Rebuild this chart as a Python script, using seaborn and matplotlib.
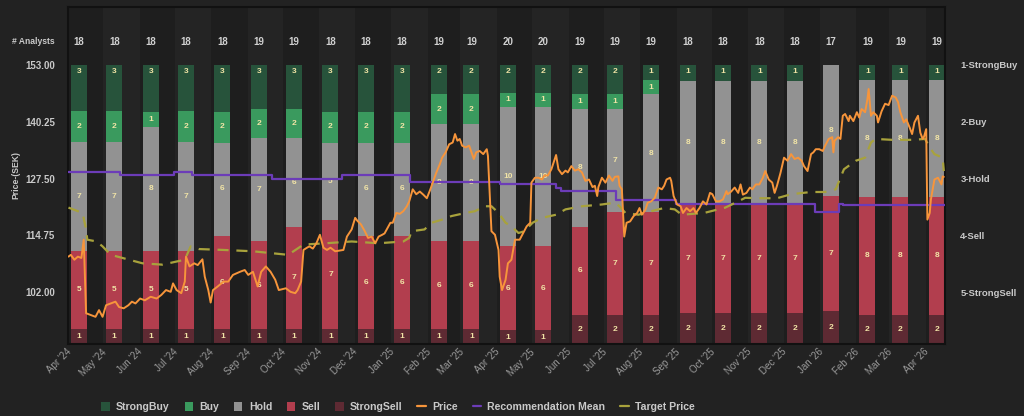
import numpy as np
import pandas as pd
import matplotlib
matplotlib.use("Agg")
import matplotlib.pyplot as plt
import matplotlib.dates as mdates
from matplotlib.patches import Patch
from matplotlib.lines import Line2D
from matplotlib.transforms import ScaledTranslation
import seaborn as sns

# ---------------- data ----------------
months = pd.date_range("2024-04-01", periods=25, freq="MS")
analysts    = [18, 18, 18, 18, 18, 19, 19, 18, 18, 18, 19, 19, 20, 20, 19, 19, 19, 18, 18, 18, 18, 17, 19, 19, 19]
strong_buy  = [3, 3, 3, 3, 3, 3, 3, 3, 3, 3, 2, 2, 2, 2, 2, 2, 1, 1, 1, 1, 1, 0, 1, 1, 1]
buy         = [2, 2, 1, 2, 2, 2, 2, 2, 2, 2, 2, 2, 1, 1, 1, 1, 1, 0, 0, 0, 0, 0, 0, 0, 0]
hold        = [7, 7, 8, 7, 6, 7, 6, 5, 6, 6, 8, 8, 10, 10, 8, 7, 8, 8, 8, 8, 8, 8, 8, 8, 8]
sell        = [5, 5, 5, 5, 6, 6, 7, 7, 6, 6, 6, 6, 6, 6, 6, 7, 7, 7, 7, 7, 7, 7, 8, 8, 8]
strong_sell = [1, 1, 1, 1, 1, 1, 1, 1, 1, 1, 1, 1, 1, 1, 2, 2, 2, 2, 2, 2, 2, 2, 2, 2, 2]

price_dates = [
    "2024-03-23", "2024-03-25", "2024-03-28", "2024-03-31",
    "2024-04-03", "2024-04-05", "2024-04-07", "2024-04-11", "2024-04-15", "2024-04-18", "2024-04-21", "2024-04-24", "2024-04-28",
    "2024-05-02", "2024-05-05", "2024-05-09", "2024-05-13", "2024-05-16", "2024-05-19", "2024-05-23", "2024-05-27",
    "2024-06-01", "2024-06-06", "2024-06-10", "2024-06-14", "2024-06-18", "2024-06-20", "2024-06-23", "2024-06-27", "2024-06-30",
    "2024-07-01", "2024-07-04", "2024-07-08", "2024-07-11", "2024-07-15", "2024-07-17", "2024-07-20", "2024-07-22", "2024-07-24", "2024-07-28",
    "2024-08-02", "2024-08-06", "2024-08-10", "2024-08-16", "2024-08-20", "2024-08-23", "2024-08-27", "2024-08-31",
    "2024-09-03", "2024-09-07", "2024-09-11", "2024-09-15", "2024-09-18", "2024-09-24", "2024-09-28",
    "2024-10-02", "2024-10-04", "2024-10-07", "2024-10-09", "2024-10-12", "2024-10-14", "2024-10-17", "2024-10-20", "2024-10-23", "2024-10-26", "2024-10-29",
    "2024-11-01", "2024-11-05", "2024-11-12", "2024-11-15", "2024-11-19", "2024-11-22", "2024-11-24", "2024-11-27", "2024-11-30",
    "2024-12-03", "2024-12-06", "2024-12-09", "2024-12-12", "2024-12-15", "2024-12-17", "2024-12-22", "2024-12-24", "2024-12-27", "2024-12-30",
    "2025-01-02", "2025-01-05", "2025-01-07", "2025-01-10", "2025-01-13", "2025-01-16", "2025-01-19", "2025-01-22", "2025-01-25", "2025-01-27", "2025-01-30",
    "2025-02-02", "2025-02-04", "2025-02-07", "2025-02-10", "2025-02-13", "2025-02-15", "2025-02-17", "2025-02-19", "2025-02-21", "2025-02-24", "2025-02-27",
    "2025-03-03", "2025-03-05", "2025-03-08", "2025-03-11", "2025-03-14", "2025-03-15", "2025-03-17", "2025-03-18", "2025-03-21", "2025-03-24", "2025-03-25", "2025-03-27", "2025-03-30",
    "2025-04-01", "2025-04-04", "2025-04-07", "2025-04-11", "2025-04-14", "2025-04-17", "2025-04-20", "2025-04-21", "2025-04-24", "2025-04-27", "2025-04-30",
    "2025-05-02", "2025-05-05", "2025-05-08", "2025-05-12", "2025-05-14", "2025-05-17", "2025-05-20", "2025-05-22", "2025-05-25", "2025-05-28", "2025-05-31",
    "2025-06-03", "2025-06-06", "2025-06-09", "2025-06-12", "2025-06-14", "2025-06-16", "2025-06-17", "2025-06-20", "2025-06-23", "2025-06-26", "2025-06-29",
    "2025-07-01", "2025-07-04", "2025-07-05", "2025-07-07", "2025-07-09", "2025-07-11", "2025-07-14", "2025-07-17", "2025-07-20", "2025-07-22", "2025-07-24", "2025-07-27", "2025-07-29",
    "2025-08-01", "2025-08-04", "2025-08-07", "2025-08-10", "2025-08-12", "2025-08-14", "2025-08-17", "2025-08-18", "2025-08-20", "2025-08-23", "2025-08-26", "2025-08-28", "2025-08-31",
    "2025-09-03", "2025-09-06", "2025-09-08", "2025-09-11", "2025-09-14", "2025-09-17", "2025-09-20", "2025-09-22", "2025-09-25", "2025-09-28",
    "2025-10-01", "2025-10-04", "2025-10-05", "2025-10-08", "2025-10-11", "2025-10-14", "2025-10-16", "2025-10-18", "2025-10-21", "2025-10-24", "2025-10-26", "2025-10-29",
    "2025-11-01", "2025-11-04", "2025-11-06", "2025-11-09", "2025-11-12", "2025-11-14", "2025-11-16", "2025-11-19", "2025-11-22", "2025-11-25", "2025-11-28",
    "2025-12-01", "2025-12-04", "2025-12-07", "2025-12-09", "2025-12-12", "2025-12-15", "2025-12-17", "2025-12-19", "2025-12-22", "2025-12-25", "2025-12-27", "2025-12-30",
    "2026-01-02", "2026-01-03", "2026-01-04", "2026-01-07", "2026-01-09", "2026-01-11", "2026-01-13", "2026-01-16", "2026-01-17", "2026-01-20", "2026-01-23", "2026-01-25", "2026-01-27", "2026-01-30",
    "2026-02-01", "2026-02-02", "2026-02-04", "2026-02-06", "2026-02-09", "2026-02-10", "2026-02-13", "2026-02-16", "2026-02-19", "2026-02-22", "2026-02-25", "2026-02-27",
    "2026-03-01", "2026-03-04", "2026-03-06", "2026-03-09", "2026-03-11", "2026-03-13", "2026-03-16", "2026-03-18", "2026-03-20", "2026-03-21", "2026-03-23", "2026-03-24", "2026-03-26", "2026-03-27", "2026-03-30",
    "2026-04-02", "2026-04-05", "2026-04-06", "2026-04-07",
]
price_values = [
    110.0, 110.4, 109.3, 110.0,
    109.7, 113.8, 97.3, 96.9, 96.5, 98.0, 96.5, 99.1, 99.5,
    99.9, 98.7, 98.4, 99.1, 99.9, 99.5, 100.6, 100.2,
    101.0, 100.6, 101.4, 102.5, 102.1, 104.0, 102.5, 101.8, 104.4,
    110.0, 107.8, 108.5, 108.1, 109.4, 105.5, 102.5, 99.7, 102.5, 103.3,
    104.4, 104.4, 105.9, 106.6, 107.0, 105.9, 106.6, 103.3,
    106.6, 107.8, 106.6, 104.8, 102.5, 102.9, 102.1,
    101.8, 102.5, 104.4, 111.5, 112.0, 112.3, 111.8, 113.0, 114.9, 112.0, 111.5,
    112.0, 111.2, 111.5, 114.5, 116.1, 118.7, 118.0, 117.2, 115.8,
    114.2, 114.5, 113.0, 114.5, 114.9, 115.2, 117.6, 117.6, 119.8, 119.6,
    120.2, 121.3, 122.4, 125.1, 124.0, 124.6, 123.9, 123.1, 125.1, 126.6, 128.8,
    130.7, 132.2, 133.4, 135.2, 135.6, 137.5, 136.0, 136.4, 134.9, 134.5, 134.9,
    131.9, 133.4, 133.7, 133.0, 134.1, 132.6, 121.3, 115.7, 114.9, 111.5, 105.5, 102.5, 104.8,
    108.5, 109.3, 113.8, 113.8, 115.3, 116.8, 117.6, 126.6, 127.7, 127.7, 127.3,
    128.2, 128.2, 129.6, 132.8, 129.6, 128.5, 129.3, 128.9, 130.3, 129.3, 129.6,
    128.9, 127.0, 127.3, 125.6, 125.9, 123.6, 125.6, 127.7, 126.6, 128.2, 127.0,
    127.9, 128.0, 125.9, 125.1, 114.5, 117.6, 117.9, 119.1, 119.8, 120.9, 119.4, 120.5, 122.1,
    122.4, 123.2, 125.5, 125.1, 125.9, 127.3, 127.7, 127.0, 123.6, 121.7, 121.3, 119.8, 120.9,
    120.2, 120.9, 119.8, 120.9, 122.4, 121.7, 124.3, 124.0, 122.4, 122.4,
    122.8, 124.7, 124.0, 124.6, 125.5, 124.3, 126.2, 123.9, 124.3, 125.5, 125.1, 126.2,
    126.2, 127.7, 129.2, 127.3, 126.6, 124.3, 125.9, 128.8, 132.2, 131.5, 133.0,
    131.9, 132.2, 131.5, 130.3, 129.2, 133.0, 133.4, 134.1, 134.1, 133.7, 134.9, 136.4,
    136.8, 133.4, 136.0, 136.8, 136.4, 141.6, 142.0, 140.4, 141.6, 140.4, 142.4, 141.2, 143.1, 142.4,
    145.4, 147.6, 141.6, 142.4, 141.6, 140.1, 142.6, 144.3, 144.0, 146.1, 145.7, 144.7,
    142.4, 140.1, 140.8, 138.9, 137.5, 140.1, 141.6, 137.8, 136.4, 136.8, 138.6, 118.3, 119.8, 122.8, 127.3,
    127.7, 126.2, 128.0, 127.9,
]

target_dates = [
    "2024-03-23", "2024-04-04", "2024-04-07", "2024-04-08", "2024-04-16", "2024-04-21", "2024-04-28",
    "2024-05-08", "2024-05-25", "2024-06-11", "2024-06-23", "2024-06-30", "2024-07-05", "2024-07-12",
    "2024-08-02", "2024-08-27", "2024-09-26", "2024-10-09", "2024-10-28", "2024-11-19", "2024-12-12",
    "2025-01-02", "2025-01-07", "2025-01-09", "2025-01-20", "2025-01-26", "2025-02-04", "2025-02-12",
    "2025-02-24", "2025-03-04", "2025-03-12", "2025-03-18", "2025-03-24", "2025-03-30", "2025-04-04",
    "2025-04-10", "2025-04-15", "2025-04-22", "2025-04-30", "2025-05-12", "2025-05-20", "2025-06-03",
    "2025-06-20", "2025-07-01", "2025-07-05", "2025-07-10", "2025-07-21", "2025-08-07", "2025-08-12",
    "2025-08-21", "2025-08-27", "2025-09-15", "2025-10-03", "2025-10-14", "2025-10-20", "2025-10-31",
    "2025-11-16", "2025-11-28", "2025-12-15", "2025-12-27", "2026-01-05", "2026-01-09", "2026-01-12",
    "2026-01-22", "2026-01-30", "2026-02-04", "2026-02-08", "2026-02-22", "2026-03-11", "2026-03-22",
    "2026-03-26", "2026-03-30", "2026-04-06", "2026-04-07",
]
target_values = [
    121.0, 119.8, 116.1, 113.8, 113.4, 112.3, 110.4,
    109.7, 108.5, 108.2, 108.9, 109.3, 112.3, 111.7,
    111.5, 111.2, 110.4, 112.7, 113.0, 113.4, 113.0,
    113.4, 114.2, 115.7, 116.1, 117.6, 118.3, 119.1,
    119.8, 120.2, 121.3, 121.3, 119.8, 117.6, 116.8,
    115.3, 115.7, 117.6, 118.7, 119.4, 120.6, 121.3,
    121.7, 122.1, 121.3, 119.8, 119.4, 120.6, 120.9,
    120.6, 119.4, 119.8, 121.0, 122.4, 123.2, 123.1,
    123.1, 124.0, 124.5, 124.5, 125.1, 127.7, 129.6,
    131.5, 132.2, 135.6, 136.4, 136.2, 136.2, 136.4,
    134.5, 133.0, 132.2, 129.2,
]

rec_dates = ["2024-03-22", "2024-05-06", "2024-06-21", "2024-07-06", "2024-09-12", "2024-11-11",
             "2025-01-08", "2025-03-25", "2025-05-12", "2025-05-16", "2025-07-02", "2025-08-22",
             "2025-12-18", "2026-01-08", "2026-01-11", "2026-04-08"]
rec_values = [2.89, 2.94, 2.89, 2.94, 3.00, 2.94, 3.06, 3.10, 3.16, 3.21, 3.37, 3.45, 3.59, 3.44, 3.47, 3.47]

price_ticks = [102.00, 114.75, 127.50, 140.25, 153.00]
rec_ticks = [1, 2, 3, 4, 5]
rec_tick_labels = ["1-StrongBuy", "2-Buy", "3-Hold", "4-Sell", "5-StrongSell"]
series_names = ["StrongBuy", "Buy", "Hold", "Sell", "StrongSell"]

# ---------------- style ----------------
BG = "#222222"
BAND_DARK = "#1e1e1e"
BAND_LIGHT = "#242424"
TXT = "#c9c9c9"
COLORS = {"StrongBuy": "#27533b", "Buy": "#3a9a5e", "Hold": "#929292",
          "Sell": "#b23e4e", "StrongSell": "#5e2a33"}
SEG_TXT = "#f1e4a6"
PRICE_C = "#f7953b"
REC_C = "#6c3cb8"
TGT_C = "#a8a23c"

sns.set_style("dark", rc={"axes.facecolor": BG, "figure.facecolor": BG,
                          "axes.edgecolor": "#111111", "axes.grid": False})
plt.rcParams["font.family"] = ["Liberation Sans", "DejaVu Sans"]

fig = plt.figure(figsize=(10.24, 4.16), dpi=100, facecolor=BG)
L, R, T, B = 68, 945, 7, 344
ax = fig.add_axes([L / 1024, 1 - B / 416, (R - L) / 1024, (B - T) / 416])
ax_r = ax.twinx()
ax_p = ax.twinx()

centers = mdates.date2num(months)
bar_w = 13.6
band_off = 9.4
x_left = centers[0] - band_off
x_right = centers[-1] + 7.0

# column bands
for i in range(len(centers)):
    lo = centers[i] - band_off
    hi = centers[i + 1] - band_off if i + 1 < len(centers) else x_right
    ax.axvspan(lo, hi, color=BAND_DARK if i % 2 == 0 else BAND_LIGHT, lw=0, zorder=0)

# stacked normalised bars
layers = [("StrongSell", strong_sell), ("Sell", sell), ("Hold", hold), ("Buy", buy), ("StrongBuy", strong_buy)]
total = np.array(strong_sell) + np.array(sell) + np.array(hold) + np.array(buy) + np.array(strong_buy)
bottom = np.zeros(len(centers))
for name, vals in layers:
    v = np.array(vals, dtype=float)
    frac = v / total
    ax.bar(centers, frac, width=bar_w, bottom=bottom, color=COLORS[name], linewidth=0, zorder=2)
    for c, b, f, n in zip(centers, bottom, frac, vals):
        if n > 0:
            y = (1 - 0.024) if name == "StrongBuy" else b + f / 2
            ax.text(c, y, str(n), ha="center", va="center", fontsize=6, fontweight="bold",
                    color=SEG_TXT, zorder=3)
    bottom += frac

top_lim = (B - T) / (B - 65)
ax.set_ylim(0, top_lim)
ax.set_xlim(x_left, x_right)
ax.set_yticks([])

# analyst counts row
y_an = (B - 42) / (B - 65)
for c, n in zip(centers, analysts):
    ax.text(c, y_an, str(n), ha="center", va="center", fontsize=7, fontweight="bold", color="#d0d0d0")
fig.text(55 / 1024, 1 - 42 / 416, "# Analysts", ha="right", va="center", fontsize=6.2,
         fontweight="bold", color=TXT)

# x ticks
ax.set_xticks(centers)
ax.set_xticklabels([d.strftime("%b '%y") for d in months], rotation=45, ha="right", va="top",
                   fontsize=7, color="#9a9a9a")
ax.tick_params(axis="x", length=0, pad=2)
for lab in ax.get_xticklabels():
    lab.set_transform(lab.get_transform() + ScaledTranslation(-6 / 100, 0, fig.dpi_scale_trans))
for s in ax.spines.values():
    s.set_color("#111111")
    s.set_linewidth(1.5)

# recommendation mean (right axis)
rec_df = pd.DataFrame({"date": mdates.date2num(pd.to_datetime(rec_dates)), "rec": rec_values})
sns.lineplot(data=rec_df, x="date", y="rec", ax=ax_r, color=REC_C, linewidth=1.6,
             drawstyle="steps-post", zorder=4)
ax_r.set_ylim(5.91, -0.02)
ax_r.set_yticks(rec_ticks)
ax_r.set_yticklabels(rec_tick_labels, fontsize=6.8, fontweight="bold", color=TXT)
ax_r.tick_params(axis="y", length=0, pad=11)
ax_r.set_ylabel("")
ax_r.set_xlabel("")

# price + target (left axis)
tgt_df = pd.DataFrame({"date": mdates.date2num(pd.to_datetime(target_dates)), "target": target_values})
sns.lineplot(data=tgt_df, x="date", y="target", ax=ax_p, color=TGT_C, linewidth=1.6, zorder=4)
ax_p.lines[-1].set_dashes([5, 3.5])
price_df = pd.DataFrame({"date": mdates.date2num(pd.to_datetime(price_dates)), "price": price_values})
sns.lineplot(data=price_df, x="date", y="price", ax=ax_p, color=PRICE_C, linewidth=1.4, zorder=5)
ax_p.set_ylim(90.4, 166.0)
ax_p.yaxis.tick_left()
ax_p.yaxis.set_label_position("left")
ax_p.set_yticks(price_ticks)
ax_p.set_yticklabels([f"{t:.2f}" for t in price_ticks], fontsize=7, fontweight="bold", color=TXT)
ax_p.tick_params(axis="y", length=0, pad=9.5)
ax_p.set_ylabel("Price-(SEK)", fontsize=6.2, fontweight="bold", color=TXT, labelpad=3)
ax_p.set_xlabel("")
ax.set_xlim(x_left, x_right)

for a in (ax_r, ax_p):
    a.patch.set_visible(False)
    for s in a.spines.values():
        s.set_visible(False)
    a.grid(False)

# legend
handles = [Patch(facecolor=COLORS[n], edgecolor="none") for n in series_names]
handles += [Line2D([], [], color=PRICE_C, lw=1.6), Line2D([], [], color=REC_C, lw=1.6),
            Line2D([], [], color=TGT_C, lw=1.6)]
labels = series_names + ["Price", "Recommendation Mean", "Target Price"]
leg = fig.legend(handles, labels, loc="center", bbox_to_anchor=(398 / 1024, 1 - 407 / 416), ncol=8,
                 frameon=False, handlelength=0.8, handleheight=0.9,
                 handletextpad=0.6, columnspacing=1.4,
                 prop={"weight": "bold", "size": 7.6})
for t in leg.get_texts():
    t.set_color(TXT)

fig.savefig("out.png", dpi=100, facecolor=BG)
